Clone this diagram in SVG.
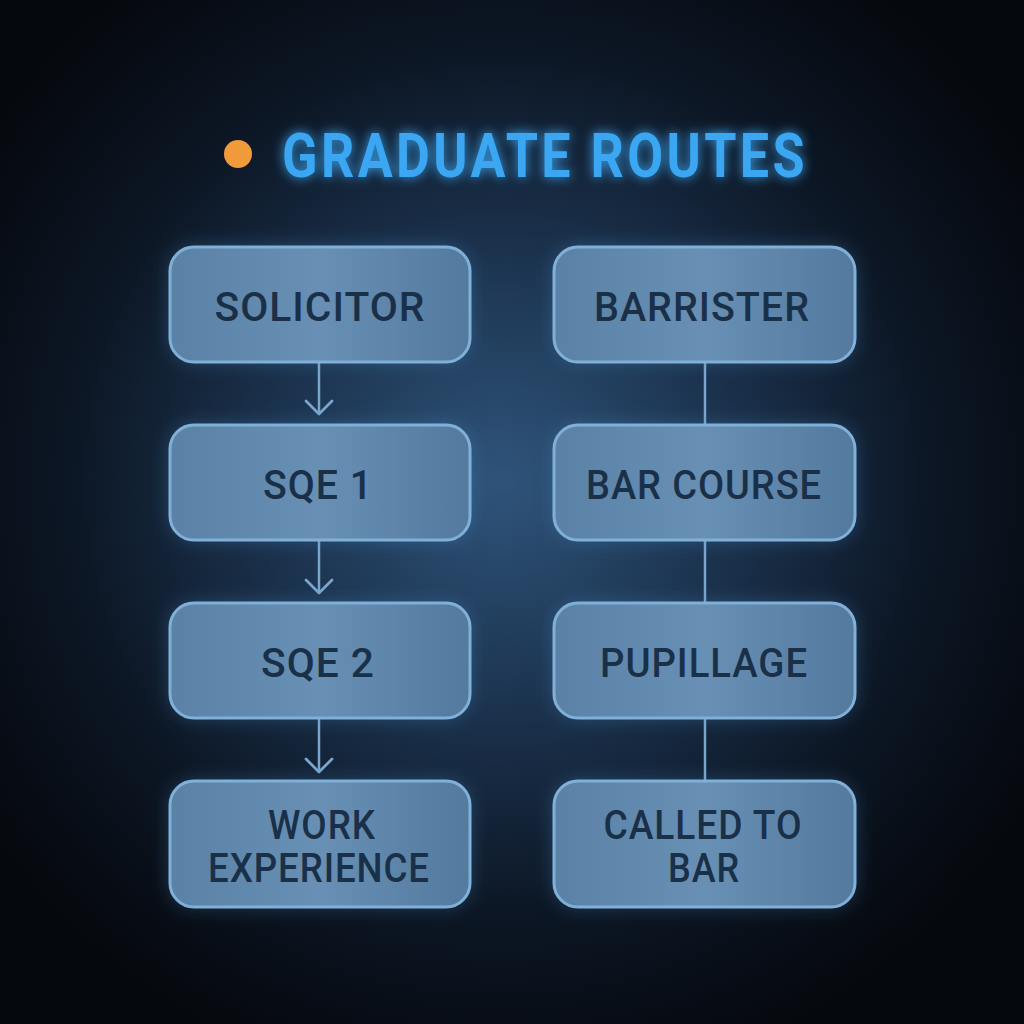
<svg xmlns="http://www.w3.org/2000/svg" width="1024" height="1024" viewBox="0 0 1024 1024">
<defs>
<radialGradient id="bg" cx="500" cy="480" r="620" gradientUnits="userSpaceOnUse">
<stop offset="0" stop-color="#2f547a"/>
<stop offset="0.35" stop-color="#1c3450"/>
<stop offset="0.7" stop-color="#0c1624"/>
<stop offset="1" stop-color="#05080d"/>
</radialGradient>
<linearGradient id="boxfill" x1="0" y1="0" x2="1" y2="0">
<stop offset="0" stop-color="#5a82a6"/>
<stop offset="0.5" stop-color="#6890b4"/>
<stop offset="1" stop-color="#537a9e"/>
</linearGradient>
<filter id="glow" x="-30%" y="-30%" width="160%" height="160%">
<feGaussianBlur in="SourceAlpha" stdDeviation="9" result="b"/>
<feFlood flood-color="#4a90d0" flood-opacity="0.3"/>
<feComposite in2="b" operator="in" result="g"/>
<feMerge><feMergeNode in="g"/><feMergeNode in="SourceGraphic"/></feMerge>
</filter>
<filter id="tglow" x="-10%" y="-40%" width="120%" height="180%">
<feGaussianBlur in="SourceGraphic" stdDeviation="6" result="b"/>
<feMerge><feMergeNode in="b"/><feMergeNode in="SourceGraphic"/></feMerge>
</filter>
<style>
.box{fill:url(#boxfill);stroke:#80b0d8;stroke-width:3;filter:url(#glow)}
.lbl{font-family:Roboto,"Liberation Sans",sans-serif;font-weight:500;font-size:40px;fill:#1a3048;text-anchor:middle;letter-spacing:1px}
.conn{stroke:#7aa6cc;stroke-width:2.5;fill:none}
.arrow{stroke:#7aa6cc;stroke-width:2.8;fill:none;stroke-linecap:round;stroke-linejoin:round}
</style>
</defs>
<rect width="1024" height="1024" fill="url(#bg)"/>
<g id="title">
<circle cx="238" cy="154" r="14" fill="#f09a3a"/>
<text x="545" y="177" text-anchor="middle" font-family="Roboto,'Liberation Sans',sans-serif" font-weight="700" font-size="61" fill="#3aa6f2" letter-spacing="4" filter="url(#tglow)" textLength="526" lengthAdjust="spacingAndGlyphs">GRADUATE ROUTES</text>
</g>
<g id="connectors">
<line class="conn" x1="319" y1="363" x2="319" y2="414"/>
<path class="arrow" d="M306,401 L319,414 L332,401"/>
<line class="conn" x1="319" y1="541" x2="319" y2="593"/>
<path class="arrow" d="M306,580 L319,593 L332,580"/>
<line class="conn" x1="319" y1="719" x2="319" y2="772"/>
<path class="arrow" d="M306,759 L319,772 L332,759"/>
<line class="conn" x1="705" y1="363" x2="705" y2="425"/>
<line class="conn" x1="705" y1="541" x2="705" y2="603"/>
<line class="conn" x1="705" y1="719" x2="705" y2="781"/>
</g>
<g id="solicitor"><rect class="box" x="170" y="247" width="300" height="115" rx="24"/><text class="lbl" x="320" y="321" textLength="211" lengthAdjust="spacingAndGlyphs">SOLICITOR</text></g>
<g id="sqe1"><rect class="box" x="170" y="425" width="300" height="115" rx="24"/><text class="lbl" x="318" y="499" textLength="110" lengthAdjust="spacingAndGlyphs">SQE 1</text></g>
<g id="sqe2"><rect class="box" x="170" y="603" width="300" height="115" rx="24"/><text class="lbl" x="318" y="677" textLength="114" lengthAdjust="spacingAndGlyphs">SQE 2</text></g>
<g id="work"><rect class="box" x="170" y="781" width="300" height="126" rx="24"/><text class="lbl" x="322" y="839" textLength="108" lengthAdjust="spacingAndGlyphs">WORK</text><text class="lbl" x="319" y="882" textLength="222" lengthAdjust="spacingAndGlyphs">EXPERIENCE</text></g>
<g id="barrister"><rect class="box" x="554" y="247" width="301" height="115" rx="24"/><text class="lbl" x="702" y="321" textLength="216" lengthAdjust="spacingAndGlyphs">BARRISTER</text></g>
<g id="barcourse"><rect class="box" x="554" y="425" width="301" height="115" rx="24"/><text class="lbl" x="704" y="499" textLength="236" lengthAdjust="spacingAndGlyphs">BAR COURSE</text></g>
<g id="pupillage"><rect class="box" x="554" y="603" width="301" height="115" rx="24"/><text class="lbl" x="704" y="677" textLength="208" lengthAdjust="spacingAndGlyphs">PUPILLAGE</text></g>
<g id="called"><rect class="box" x="554" y="781" width="301" height="126" rx="24"/><text class="lbl" x="703" y="839" textLength="199" lengthAdjust="spacingAndGlyphs">CALLED TO</text><text class="lbl" x="704" y="882" textLength="72" lengthAdjust="spacingAndGlyphs">BAR</text></g>
</svg>
